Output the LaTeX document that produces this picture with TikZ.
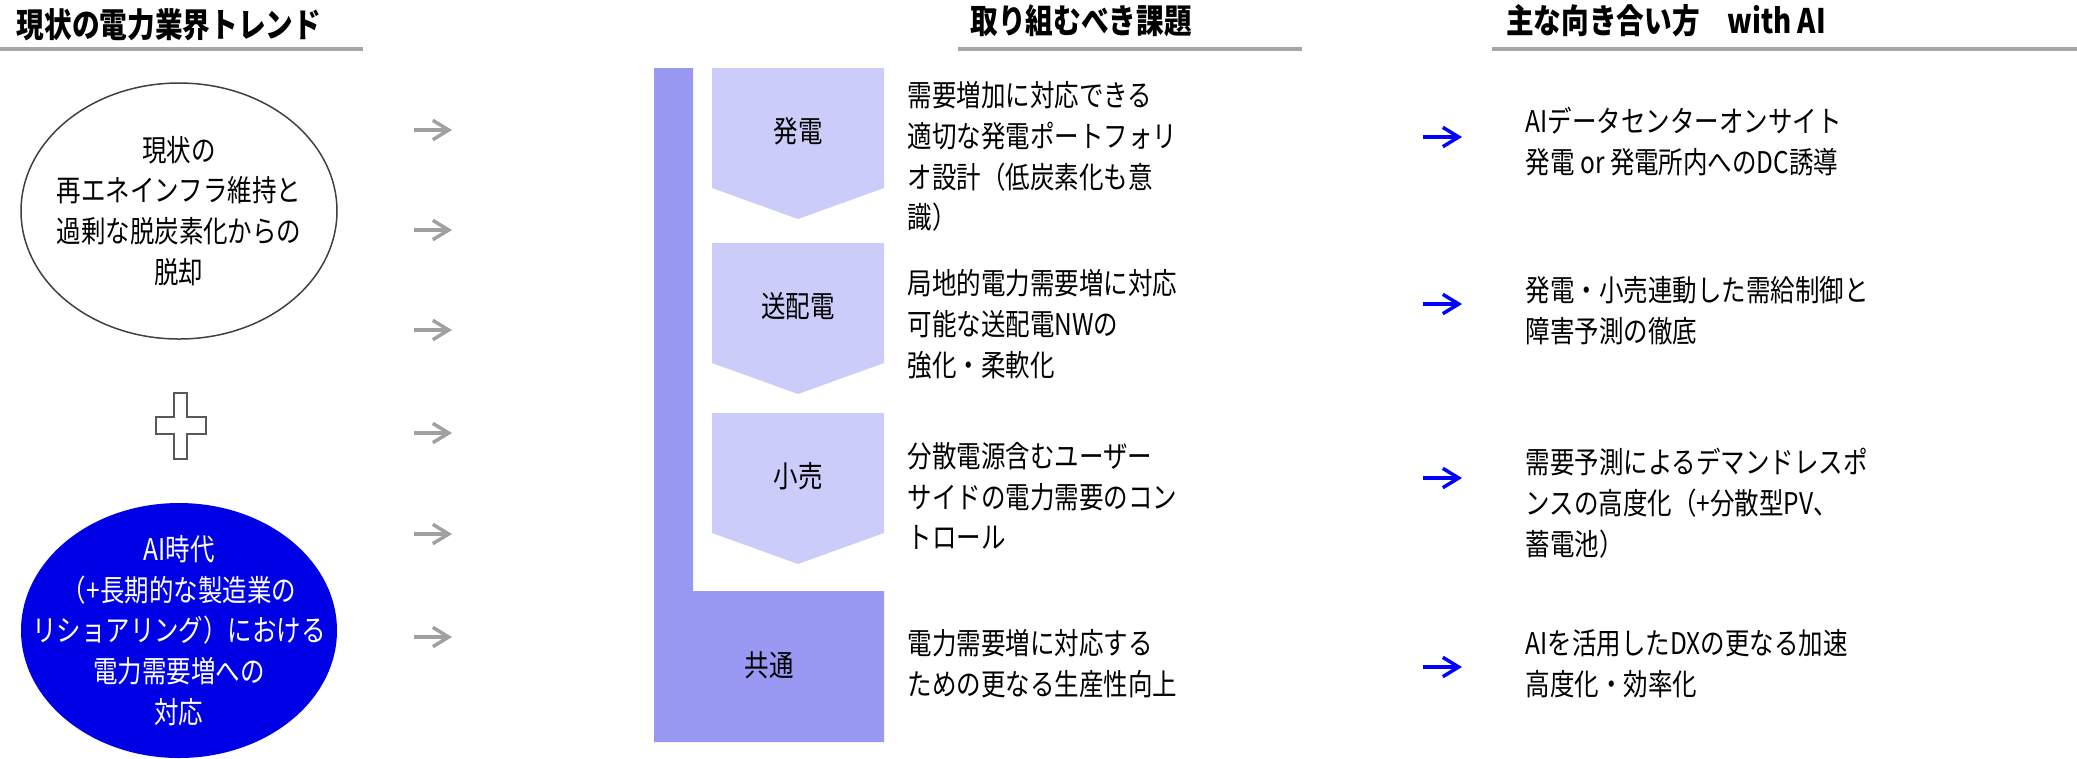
\documentclass[tikz,border=0pt]{standalone}
\usepackage{fontspec}
\setmainfont{Noto Sans CJK JP}[FakeStretch=0.82]
\usetikzlibrary{shapes.geometric,arrows.meta}
\definecolor{bardark}{RGB}{153,153,243}
\definecolor{barlight}{RGB}{204,204,250}
\definecolor{aiblue}{RGB}{0,0,230}
\definecolor{rulegray}{RGB}{166,166,166}
\definecolor{arrowgray}{RGB}{160,160,160}

\begin{document}
\begin{tikzpicture}[
  font=\fontsize{8.5}{11.6}\selectfont,
  txt/.style={anchor=west, align=left, inner sep=0pt},
  head/.style={inner sep=0pt, font=\fontsize{9.6}{11.6}\selectfont\bfseries},
  rule/.style={rulegray, line width=0.04cm},
  grayarr/.style={arrowgray, line width=0.035cm, -{Straight Barb[length=4.5pt,width=5.5pt]}},
  bluearr/.style={blue, line width=0.035cm, -{Straight Barb[length=4.5pt,width=5.5pt]}}
]
\useasboundingbox (0,0) rectangle (20.77,-7.58);

% Headings
\node[head] (h1) at (1.69,-0.245) {現状の電力業界トレンド};
\node[head] (h2) at (10.81,-0.21) {取り組むべき課題};
\node[head] (h3) at (16.66,-0.205) {主な向き合い方　with AI};
\draw[rule] (0,-0.485) -- (3.63,-0.485);
\draw[rule] (9.58,-0.485) -- (13.02,-0.485);
\draw[rule] (14.92,-0.485) -- (20.77,-0.485);

% Trends
\node[ellipse, draw=black!75, line width=0.015cm, minimum width=3.16cm, minimum height=2.56cm] (now) at (1.79,-2.11) {};
\node[align=center, inner sep=0pt] (nowtxt) at (now) {現状の\\再エネインフラ維持と\\過剰な脱炭素化からの\\脱却};
\filldraw[fill=white, draw=black!65, line width=0.015cm] (1.74,-3.93) -- (1.87,-3.93) -- (1.87,-4.17) -- (2.06,-4.17) -- (2.06,-4.34) -- (1.87,-4.34) -- (1.87,-4.59) -- (1.74,-4.59) -- (1.74,-4.34) -- (1.56,-4.34) -- (1.56,-4.17) -- (1.74,-4.17) -- cycle;
\node[ellipse, fill=aiblue, minimum width=3.16cm, minimum height=2.55cm] (ai) at (1.79,-6.305) {};
\node[align=center, inner sep=0pt, white] (aitxt) at (ai) {AI時代\\（+長期的な製造業の\\リショアリング）における\\電力需要増への\\対応};

% Gray arrows
\foreach \y [count=\i] in {1.30,2.30,3.30,4.33,5.34,6.37} {
  \coordinate (g\i a) at (4.14,-\y);
  \coordinate (g\i b) at (4.52,-\y);
  \draw[grayarr] (g\i a) -- (g\i b);
}

% Bar and steps
\fill[bardark] (6.54,-0.68) -- (6.93,-0.68) -- (6.93,-5.91) -- (8.84,-5.91) -- (8.84,-7.42) -- (6.54,-7.42) -- cycle;
\node (common) at (7.69,-6.65) {共通};
\foreach \t/\lab/\nm in {0.68/発電/gen, 2.43/送配電/grid, 4.13/小売/retail} {
  \fill[barlight] (7.12,-\t) -- (8.84,-\t) -- (8.84,-\t-1.20) -- (7.98,-\t-1.51) -- (7.12,-\t-1.20) -- cycle;
  \node (\nm) at (7.98,-\t-0.63) {\lab};
}

% Tasks
\node[txt] (t1) at (9.07,-1.565) {需要増加に対応できる\\適切な発電ポートフォリ\\オ設計（低炭素化も意\\識）};
\node[txt] (t2) at (9.07,-3.24) {局地的電力需要増に対応\\可能な送配電NWの\\強化・柔軟化};
\node[txt] (t3) at (9.07,-4.96) {分散電源含むユーザー\\サイドの電力需要のコン\\トロール};
\node[txt] (t4) at (9.07,-6.635) {電力需要増に対応する\\ための更なる生産性向上};

% Blue arrows
\foreach \y [count=\i] in {1.37,3.04,4.78,6.67} {
  \coordinate (b\i a) at (14.23,-\y);
  \coordinate (b\i b) at (14.62,-\y);
  \draw[bluearr] (b\i a) -- (b\i b);
}

% Ways with AI
\node[txt] (r1) at (15.25,-1.415) {AIデータセンターオンサイト\\発電 or 発電所内へのDC誘導};
\node[txt] (r2) at (15.25,-3.105) {発電・小売連動した需給制御と\\障害予測の徹底};
\node[txt] (r3) at (15.25,-5.03) {需要予測によるデマンドレスポ\\ンスの高度化（+分散型PV、\\蓄電池）};
\node[txt] (r4) at (15.25,-6.64) {AIを活用したDXの更なる加速\\高度化・効率化};
\end{tikzpicture}
\end{document}
